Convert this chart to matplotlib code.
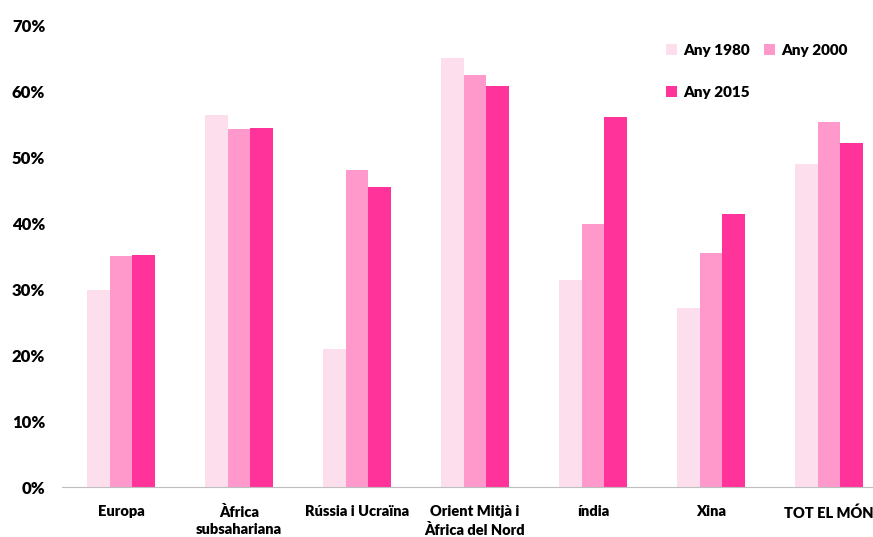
import matplotlib.pyplot as plt
import numpy as np

plt.rcParams['font.family'] = ['Lato', 'DejaVu Sans']

regions = ["Europa", "Àfrica\nsubsahariana", "Rússia i Ucraïna", "Orient Mitjà i\nÀfrica del Nord",
           "índia", "Xina", "TOT EL MÓN"]
any1980 = [29.8, 56.4, 20.9, 65.0, 31.4, 27.1, 48.9]
any2000 = [35.0, 54.2, 48.0, 62.4, 39.8, 35.5, 55.3]
any2015 = [35.2, 54.4, 45.5, 60.8, 56.1, 41.4, 52.1]
series_labels = ["Any 1980", "Any 2000", "Any 2015"]
colors = ["#FDDEEC", "#FF99CC", "#FF3399"]

fig = plt.figure(figsize=(8.73, 5.37), dpi=100)
# the plot runs past the right edge, as in the original
ax = fig.add_axes([62/873, 1-487/537, 826/873, 462/537])

x = np.arange(len(regions))
w = 0.193
bars = []
for i, vals in enumerate([any1980, any2000, any2015]):
    bars.append(ax.bar(x + (i-1)*w, vals, width=w, color=colors[i], label=series_labels[i]))

ax.set_xlim(-0.5, len(regions)-0.5)
ax.set_ylim(0, 70)
ax.set_yticks(range(0, 71, 10))
ax.set_yticklabels([f"{v}%" for v in range(0, 71, 10)], fontsize=12, fontweight='heavy')
ax.set_xticks(x)
ax.set_xticklabels(regions, fontsize=10.5, fontweight='heavy', linespacing=1.4, va='top')
ax.tick_params(axis='y', length=0, pad=12)
ax.tick_params(axis='x', length=0, pad=13)
for s in ['top', 'right', 'left']:
    ax.spines[s].set_visible(False)
ax.spines['bottom'].set_color('#BFBFBF')

# row order: 1980, 2000 on top, 2015 below
order = [0, 2, 1]
fig.legend([bars[i] for i in order], [series_labels[i] for i in order],
           loc='upper left', bbox_to_anchor=(652/873, 1-30/537), ncol=2, frameon=False,
           prop={'weight': 'heavy', 'size': 11}, handlelength=0.75, handleheight=0.75,
           handletextpad=0.4, columnspacing=0.9, labelspacing=1.9)

fig.savefig("out.png", dpi=100)
